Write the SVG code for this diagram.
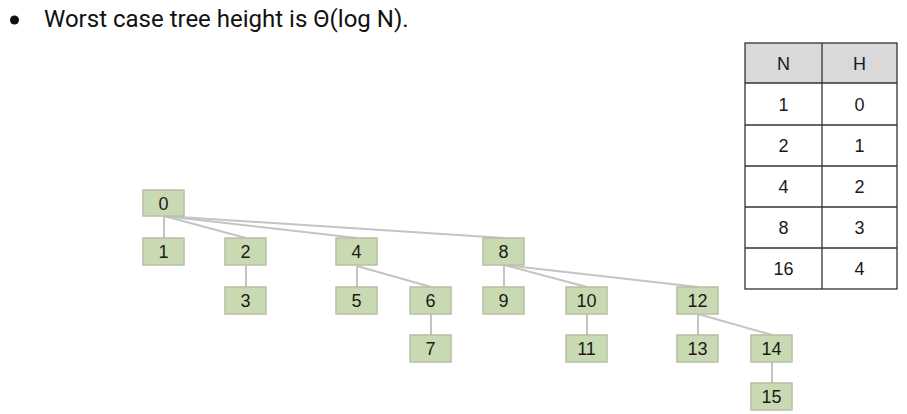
<svg xmlns="http://www.w3.org/2000/svg" width="907" height="414" viewBox="0 0 907 414">
<style>
.n rect{fill:#c9d9b1;stroke:#b5c0a6;stroke-width:1.5}
.n text,.t text{font-family:"Liberation Sans",Arial,sans-serif;font-size:18px;fill:#1a1a1a;text-anchor:middle}
.e line{stroke:#c4c4c4;stroke-width:2}
.t line,.t rect{stroke:#333;stroke-width:1.3;fill:none}
</style>
<rect width="907" height="414" fill="#fff"/>
<circle cx="14.5" cy="20" r="4.5" fill="#111"/>
<text x="44" y="27" font-family="Roboto,'Liberation Sans',sans-serif" font-size="24" fill="#111">Worst case tree height is Θ(log N).</text>
<g id="connectors" class="e">
<line x1="164" y1="216" x2="164" y2="238"/>
<line x1="164" y1="216" x2="246" y2="238"/>
<line x1="164" y1="216" x2="357" y2="238"/>
<line x1="164" y1="216" x2="504" y2="238"/>
<line x1="246" y1="266" x2="246" y2="287"/>
<line x1="357" y1="266" x2="357" y2="287"/>
<line x1="357" y1="266" x2="431" y2="287"/>
<line x1="431" y1="314" x2="431" y2="335"/>
<line x1="504" y1="265" x2="504" y2="287"/>
<line x1="504" y1="265" x2="587" y2="287"/>
<line x1="504" y1="265" x2="698" y2="287"/>
<line x1="587" y1="314" x2="587" y2="335"/>
<line x1="698" y1="314" x2="698" y2="335"/>
<line x1="698" y1="314" x2="772" y2="335"/>
<line x1="772" y1="362" x2="772" y2="383"/>
</g>
<g id="n0" class="n"><rect x="143" y="190" width="41" height="26"/><text x="163.5" y="209.5">0</text></g>
<g id="n1" class="n"><rect x="143" y="238" width="41" height="27"/><text x="163.5" y="258">1</text></g>
<g id="n2" class="n"><rect x="225" y="238" width="41" height="27"/><text x="245.5" y="258">2</text></g>
<g id="n3" class="n"><rect x="225" y="287" width="41" height="27"/><text x="245.5" y="307">3</text></g>
<g id="n4" class="n"><rect x="336" y="238" width="41" height="27"/><text x="356.5" y="258">4</text></g>
<g id="n5" class="n"><rect x="336" y="287" width="41" height="27"/><text x="356.5" y="307">5</text></g>
<g id="n6" class="n"><rect x="410" y="287" width="41" height="27"/><text x="430.5" y="307">6</text></g>
<g id="n7" class="n"><rect x="410" y="335" width="41" height="27"/><text x="430.5" y="355">7</text></g>
<g id="n8" class="n"><rect x="483" y="238" width="41" height="27"/><text x="503.5" y="258">8</text></g>
<g id="n9" class="n"><rect x="483" y="287" width="41" height="27"/><text x="503.5" y="307">9</text></g>
<g id="n10" class="n"><rect x="566" y="287" width="41" height="27"/><text x="586.5" y="307">10</text></g>
<g id="n11" class="n"><rect x="566" y="335" width="41" height="27"/><text x="586.5" y="355">11</text></g>
<g id="n12" class="n"><rect x="677" y="287" width="41" height="27"/><text x="697.5" y="307">12</text></g>
<g id="n13" class="n"><rect x="677" y="335" width="41" height="27"/><text x="697.5" y="355">13</text></g>
<g id="n14" class="n"><rect x="751" y="335" width="41" height="27"/><text x="771.5" y="355">14</text></g>
<g id="n15" class="n"><rect x="751" y="383" width="41" height="27"/><text x="771.5" y="403">15</text></g>
<g id="table" class="t">
<rect x="745" y="43" width="152" height="40" fill="#d9d9d9" style="fill:#d9d9d9;stroke:none"/>
<rect x="745" y="43" width="152" height="246"/>
<line x1="822" y1="43" x2="822" y2="289"/>
<line x1="745" y1="83" x2="897" y2="83"/>
<line x1="745" y1="125" x2="897" y2="125"/>
<line x1="745" y1="166" x2="897" y2="166"/>
<line x1="745" y1="207" x2="897" y2="207"/>
<line x1="745" y1="248" x2="897" y2="248"/>
<text x="783.5" y="69.5">N</text><text x="859.5" y="69.5">H</text>
<text x="783.5" y="110.5">1</text><text x="859.5" y="110.5">0</text>
<text x="783.5" y="151.5">2</text><text x="859.5" y="151.5">1</text>
<text x="783.5" y="192.5">4</text><text x="859.5" y="192.5">2</text>
<text x="783.5" y="233.5">8</text><text x="859.5" y="233.5">3</text>
<text x="783.5" y="274.5">16</text><text x="859.5" y="274.5">4</text>
</g>
</svg>
